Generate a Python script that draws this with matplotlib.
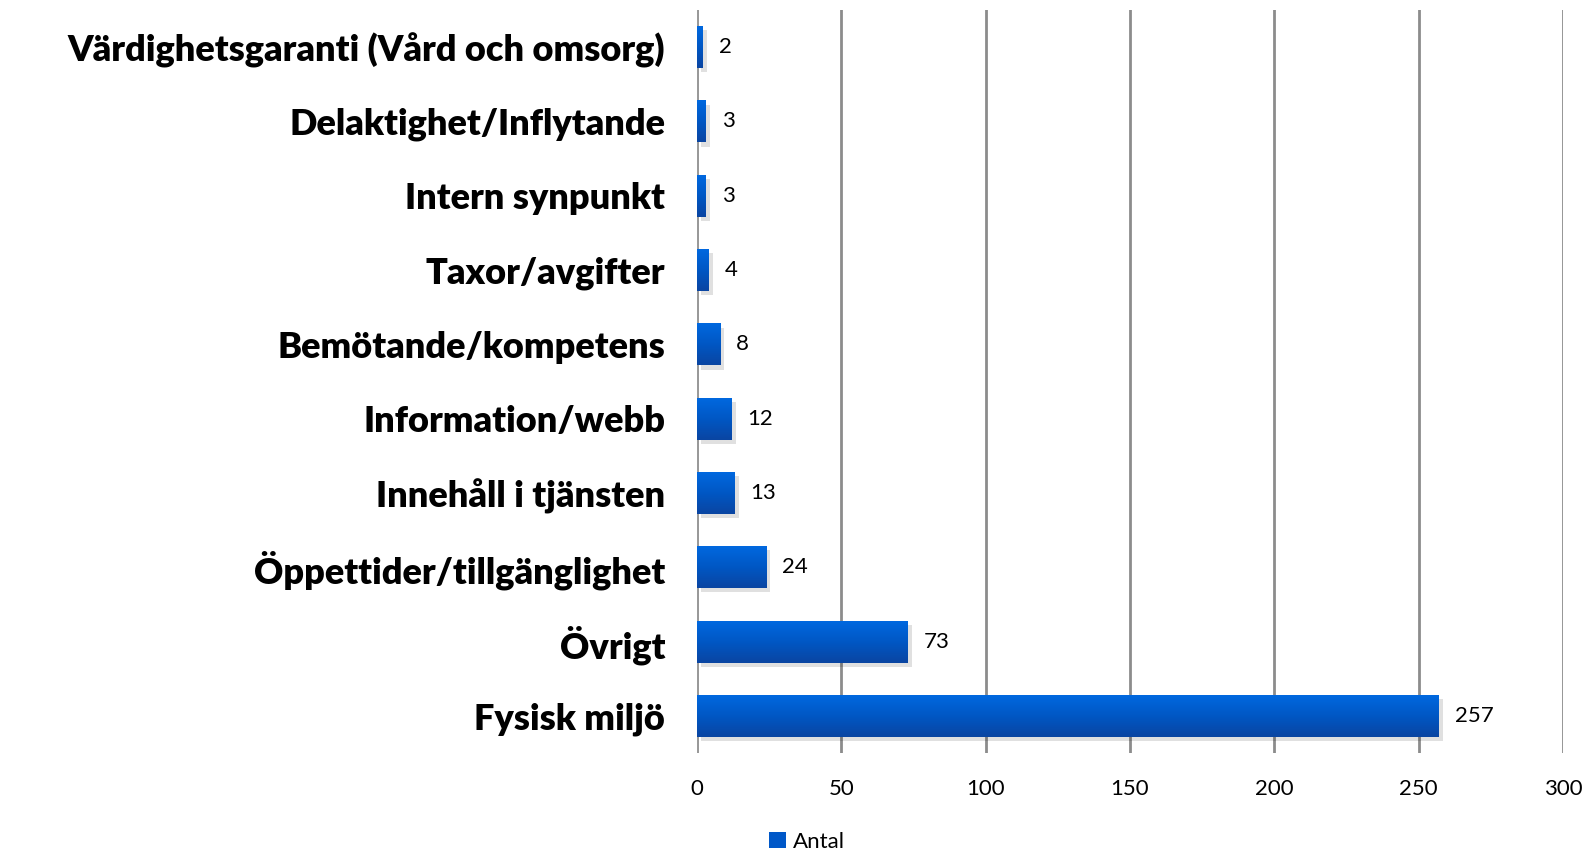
import matplotlib
matplotlib.use("Agg")
import matplotlib.pyplot as plt
import matplotlib.patheffects as pe
from matplotlib.colors import LinearSegmentedColormap
from matplotlib.patches import Patch
import numpy as np

categories = ["Värdighetsgaranti (Vård och omsorg)", "Delaktighet/Inflytande",
              "Intern synpunkt", "Taxor/avgifter", "Bemötande/kompetens",
              "Information/webb", "Innehåll i tjänsten", "Öppettider/tillgänglighet",
              "Övrigt", "Fysisk miljö"]
values = [2, 3, 3, 4, 8, 12, 13, 24, 73, 257]
xticks = [0, 50, 100, 150, 200, 250, 300]
series_name = "Antal"

plt.rcParams['font.family'] = ['Lato', 'DejaVu Sans']

fig = plt.figure(figsize=(15.91, 8.52), dpi=100)
ax = fig.add_axes([697/1591, 99/852, 866/1591, 743/852])

n = len(categories)
ypos = np.arange(n)[::-1]  # first category at top
bar_h = 0.565
cmap = LinearSegmentedColormap.from_list("g", ["#0a45a2", "#0057c4", "#0068df"])
grad = np.linspace(0, 1, 64).reshape(-1, 1)

bars = ax.barh(ypos, values, height=bar_h, color="#0058c8", zorder=3,
               path_effects=[pe.SimplePatchShadow(offset=(3, -3), shadow_rgbFace="#000000", alpha=0.12),
                             pe.Normal()])
for b, v in zip(bars, values):
    y0 = b.get_y()
    im = ax.imshow(grad, cmap=cmap, aspect="auto", origin="lower",
                   extent=[0, v, y0, y0 + bar_h], zorder=4, interpolation="bilinear")
    im.set_clip_path(b)
    ax.text(v + 5.5, b.get_y() + bar_h / 2, str(v), va="center", ha="left",
            fontsize=16, color="#000000", zorder=5)

ax.set_xlim(0, 300)
ax.set_ylim(-0.5, n - 0.5)
ax.set_xticks(xticks)
ax.set_xticklabels([str(t) for t in xticks], fontsize=16)
ax.set_yticks(ypos)
ax.set_yticklabels(categories, fontsize=26, fontweight="heavy")
ax.tick_params(axis="x", length=0, pad=19)
ax.tick_params(axis="y", length=0, pad=23)
ax.grid(axis="x", color="#8c8c8c", linewidth=2, zorder=0)
for s in ax.spines.values():
    s.set_visible(False)
ax.axvline(0, color="#9a9a9a", linewidth=2, zorder=2)

leg = fig.legend(handles=[Patch(facecolor="#0058c8", edgecolor="none")], labels=[series_name],
                 loc="center", bbox_to_anchor=(807/1591, 1 - 842/852), frameon=False,
                 fontsize=16, handlelength=0.75, handleheight=0.75, handletextpad=0.3)

fig.savefig("out.png", dpi=100)
